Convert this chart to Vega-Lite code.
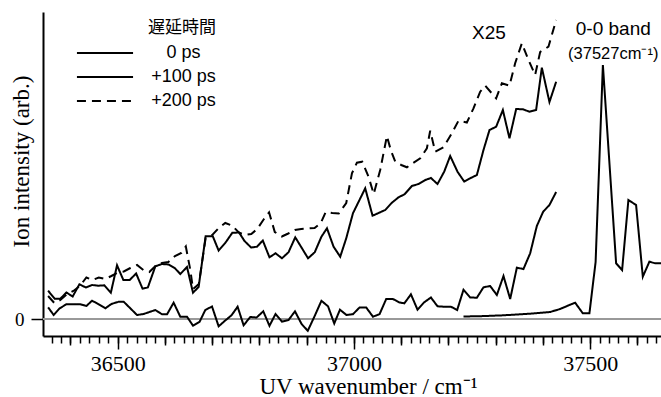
{
  "$schema": "https://vega.github.io/schema/vega-lite/v6.json",
  "width": 618,
  "height": 324,
  "autosize": {"type": "none"},
  "padding": {"left": 43, "top": 12, "right": 0, "bottom": 61},
  "background": "white",
  "config": {"view": {"stroke": null}, "axis": {"grid": false}},
  "datasets": {
    "spectra": [
      {"trace": "0ps_x25", "delay": "0 ps", "wavenumber": 36352.8, "intensity": 11.7},
      {"trace": "0ps_x25", "delay": "0 ps", "wavenumber": 36364.6, "intensity": 4},
      {"trace": "0ps_x25", "delay": "0 ps", "wavenumber": 36377.3, "intensity": 10.7},
      {"trace": "0ps_x25", "delay": "0 ps", "wavenumber": 36391.5, "intensity": 14.7},
      {"trace": "0ps_x25", "delay": "0 ps", "wavenumber": 36406.9, "intensity": 14.7},
      {"trace": "0ps_x25", "delay": "0 ps", "wavenumber": 36421.1, "intensity": 14.7},
      {"trace": "0ps_x25", "delay": "0 ps", "wavenumber": 36433.8, "intensity": 13},
      {"trace": "0ps_x25", "delay": "0 ps", "wavenumber": 36445.8, "intensity": 18.3},
      {"trace": "0ps_x25", "delay": "0 ps", "wavenumber": 36459.8, "intensity": 14.7},
      {"trace": "0ps_x25", "delay": "0 ps", "wavenumber": 36474, "intensity": 10.7},
      {"trace": "0ps_x25", "delay": "0 ps", "wavenumber": 36486.7, "intensity": 15},
      {"trace": "0ps_x25", "delay": "0 ps", "wavenumber": 36502.1, "intensity": 17.3},
      {"trace": "0ps_x25", "delay": "0 ps", "wavenumber": 36512.7, "intensity": 17.3},
      {"trace": "0ps_x25", "delay": "0 ps", "wavenumber": 36541, "intensity": 4},
      {"trace": "0ps_x25", "delay": "0 ps", "wavenumber": 36555, "intensity": 5},
      {"trace": "0ps_x25", "delay": "0 ps", "wavenumber": 36579.8, "intensity": 9},
      {"trace": "0ps_x25", "delay": "0 ps", "wavenumber": 36593.9, "intensity": 4.7},
      {"trace": "0ps_x25", "delay": "0 ps", "wavenumber": 36604.5, "intensity": 4.7},
      {"trace": "0ps_x25", "delay": "0 ps", "wavenumber": 36618.5, "intensity": 16.3},
      {"trace": "0ps_x25", "delay": "0 ps", "wavenumber": 36632.6, "intensity": 2.3},
      {"trace": "0ps_x25", "delay": "0 ps", "wavenumber": 36646.8, "intensity": 2.3},
      {"trace": "0ps_x25", "delay": "0 ps", "wavenumber": 36659.5, "intensity": -6.7},
      {"trace": "0ps_x25", "delay": "0 ps", "wavenumber": 36673.5, "intensity": -2.7},
      {"trace": "0ps_x25", "delay": "0 ps", "wavenumber": 36685.5, "intensity": 9},
      {"trace": "0ps_x25", "delay": "0 ps", "wavenumber": 36699.7, "intensity": 12.5},
      {"trace": "0ps_x25", "delay": "0 ps", "wavenumber": 36713.7, "intensity": -7.3},
      {"trace": "0ps_x25", "delay": "0 ps", "wavenumber": 36727.8, "intensity": -1.5},
      {"trace": "0ps_x25", "delay": "0 ps", "wavenumber": 36741, "intensity": 3.7},
      {"trace": "0ps_x25", "delay": "0 ps", "wavenumber": 36753.9, "intensity": 12.3},
      {"trace": "0ps_x25", "delay": "0 ps", "wavenumber": 36766.6, "intensity": -6.3},
      {"trace": "0ps_x25", "delay": "0 ps", "wavenumber": 36780.7, "intensity": 2},
      {"trace": "0ps_x25", "delay": "0 ps", "wavenumber": 36794, "intensity": 1.5},
      {"trace": "0ps_x25", "delay": "0 ps", "wavenumber": 36808.2, "intensity": 7.7},
      {"trace": "0ps_x25", "delay": "0 ps", "wavenumber": 36821.3, "intensity": -6.8},
      {"trace": "0ps_x25", "delay": "0 ps", "wavenumber": 36834.2, "intensity": 5},
      {"trace": "0ps_x25", "delay": "0 ps", "wavenumber": 36847.8, "intensity": -2.7},
      {"trace": "0ps_x25", "delay": "0 ps", "wavenumber": 36861.7, "intensity": -1},
      {"trace": "0ps_x25", "delay": "0 ps", "wavenumber": 36875.3, "intensity": 7.7},
      {"trace": "0ps_x25", "delay": "0 ps", "wavenumber": 36889.3, "intensity": -5},
      {"trace": "0ps_x25", "delay": "0 ps", "wavenumber": 36902.4, "intensity": -11.8},
      {"trace": "0ps_x25", "delay": "0 ps", "wavenumber": 36917.2, "intensity": 3.2},
      {"trace": "0ps_x25", "delay": "0 ps", "wavenumber": 36931.3, "intensity": 18.2},
      {"trace": "0ps_x25", "delay": "0 ps", "wavenumber": 36945.3, "intensity": 12.7},
      {"trace": "0ps_x25", "delay": "0 ps", "wavenumber": 36958.4, "intensity": -4.5},
      {"trace": "0ps_x25", "delay": "0 ps", "wavenumber": 36970.5, "intensity": 9.3},
      {"trace": "0ps_x25", "delay": "0 ps", "wavenumber": 36984.4, "intensity": 4},
      {"trace": "0ps_x25", "delay": "0 ps", "wavenumber": 36998, "intensity": 4.8},
      {"trace": "0ps_x25", "delay": "0 ps", "wavenumber": 37012, "intensity": 11.5},
      {"trace": "0ps_x25", "delay": "0 ps", "wavenumber": 37026.1, "intensity": 11.5},
      {"trace": "0ps_x25", "delay": "0 ps", "wavenumber": 37040.3, "intensity": 2.3},
      {"trace": "0ps_x25", "delay": "0 ps", "wavenumber": 37054.3, "intensity": 4.8},
      {"trace": "0ps_x25", "delay": "0 ps", "wavenumber": 37068.4, "intensity": 20},
      {"trace": "0ps_x25", "delay": "0 ps", "wavenumber": 37082.6, "intensity": 20},
      {"trace": "0ps_x25", "delay": "0 ps", "wavenumber": 37096.6, "intensity": 16.5},
      {"trace": "0ps_x25", "delay": "0 ps", "wavenumber": 37106.9, "intensity": 15.7},
      {"trace": "0ps_x25", "delay": "0 ps", "wavenumber": 37120.7, "intensity": 24.7},
      {"trace": "0ps_x25", "delay": "0 ps", "wavenumber": 37134.7, "intensity": 9.3},
      {"trace": "0ps_x25", "delay": "0 ps", "wavenumber": 37148.8, "intensity": 16.7},
      {"trace": "0ps_x25", "delay": "0 ps", "wavenumber": 37163, "intensity": 21.5},
      {"trace": "0ps_x25", "delay": "0 ps", "wavenumber": 37177, "intensity": 12.7},
      {"trace": "0ps_x25", "delay": "0 ps", "wavenumber": 37191.1, "intensity": 12.3},
      {"trace": "0ps_x25", "delay": "0 ps", "wavenumber": 37205.3, "intensity": 12.3},
      {"trace": "0ps_x25", "delay": "0 ps", "wavenumber": 37218.6, "intensity": 9},
      {"trace": "0ps_x25", "delay": "0 ps", "wavenumber": 37232, "intensity": 29.3},
      {"trace": "0ps_x25", "delay": "0 ps", "wavenumber": 37246.1, "intensity": 21.5},
      {"trace": "0ps_x25", "delay": "0 ps", "wavenumber": 37260.3, "intensity": 21.3},
      {"trace": "0ps_x25", "delay": "0 ps", "wavenumber": 37274.3, "intensity": 31.7},
      {"trace": "0ps_x25", "delay": "0 ps", "wavenumber": 37288.4, "intensity": 33},
      {"trace": "0ps_x25", "delay": "0 ps", "wavenumber": 37302.6, "intensity": 24},
      {"trace": "0ps_x25", "delay": "0 ps", "wavenumber": 37316.6, "intensity": 43},
      {"trace": "0ps_x25", "delay": "0 ps", "wavenumber": 37330.8, "intensity": 20},
      {"trace": "0ps_x25", "delay": "0 ps", "wavenumber": 37344.9, "intensity": 51.3},
      {"trace": "0ps_x25", "delay": "0 ps", "wavenumber": 37358.9, "intensity": 50},
      {"trace": "0ps_x25", "delay": "0 ps", "wavenumber": 37373.1, "intensity": 65.7},
      {"trace": "0ps_x25", "delay": "0 ps", "wavenumber": 37387.2, "intensity": 93},
      {"trace": "0ps_x25", "delay": "0 ps", "wavenumber": 37400.6, "intensity": 107.3},
      {"trace": "0ps_x25", "delay": "0 ps", "wavenumber": 37413.9, "intensity": 114},
      {"trace": "0ps_x25", "delay": "0 ps", "wavenumber": 37428.1, "intensity": 127},

      {"trace": "100ps_x25", "delay": "+100 ps", "wavenumber": 36352.8, "intensity": 28.3},
      {"trace": "100ps_x25", "delay": "+100 ps", "wavenumber": 36366.7, "intensity": 20.3},
      {"trace": "100ps_x25", "delay": "+100 ps", "wavenumber": 36378.8, "intensity": 20.3},
      {"trace": "100ps_x25", "delay": "+100 ps", "wavenumber": 36391.5, "intensity": 26.5},
      {"trace": "100ps_x25", "delay": "+100 ps", "wavenumber": 36404.8, "intensity": 22.5},
      {"trace": "100ps_x25", "delay": "+100 ps", "wavenumber": 36419, "intensity": 34.7},
      {"trace": "100ps_x25", "delay": "+100 ps", "wavenumber": 36432.7, "intensity": 31.5},
      {"trace": "100ps_x25", "delay": "+100 ps", "wavenumber": 36445.8, "intensity": 34},
      {"trace": "100ps_x25", "delay": "+100 ps", "wavenumber": 36458.1, "intensity": 33.3},
      {"trace": "100ps_x25", "delay": "+100 ps", "wavenumber": 36471.9, "intensity": 33.7},
      {"trace": "100ps_x25", "delay": "+100 ps", "wavenumber": 36485.6, "intensity": 26.3},
      {"trace": "100ps_x25", "delay": "+100 ps", "wavenumber": 36498.7, "intensity": 53.7},
      {"trace": "100ps_x25", "delay": "+100 ps", "wavenumber": 36512.1, "intensity": 39},
      {"trace": "100ps_x25", "delay": "+100 ps", "wavenumber": 36525.4, "intensity": 39},
      {"trace": "100ps_x25", "delay": "+100 ps", "wavenumber": 36539.1, "intensity": 45.5},
      {"trace": "100ps_x25", "delay": "+100 ps", "wavenumber": 36552.7, "intensity": 30.3},
      {"trace": "100ps_x25", "delay": "+100 ps", "wavenumber": 36563.9, "intensity": 31.5},
      {"trace": "100ps_x25", "delay": "+100 ps", "wavenumber": 36579.8, "intensity": 52.7},
      {"trace": "100ps_x25", "delay": "+100 ps", "wavenumber": 36593.9, "intensity": 55},
      {"trace": "100ps_x25", "delay": "+100 ps", "wavenumber": 36607.9, "intensity": 54.5},
      {"trace": "100ps_x25", "delay": "+100 ps", "wavenumber": 36621.4, "intensity": 50.7},
      {"trace": "100ps_x25", "delay": "+100 ps", "wavenumber": 36632.6, "intensity": 45},
      {"trace": "100ps_x25", "delay": "+100 ps", "wavenumber": 36646.8, "intensity": 52},
      {"trace": "100ps_x25", "delay": "+100 ps", "wavenumber": 36659.5, "intensity": 26.3},
      {"trace": "100ps_x25", "delay": "+100 ps", "wavenumber": 36671.4, "intensity": 32},
      {"trace": "100ps_x25", "delay": "+100 ps", "wavenumber": 36686.2, "intensity": 82.7},
      {"trace": "100ps_x25", "delay": "+100 ps", "wavenumber": 36701.4, "intensity": 82.7},
      {"trace": "100ps_x25", "delay": "+100 ps", "wavenumber": 36713.7, "intensity": 68.5},
      {"trace": "100ps_x25", "delay": "+100 ps", "wavenumber": 36728.5, "intensity": 76.5},
      {"trace": "100ps_x25", "delay": "+100 ps", "wavenumber": 36742.6, "intensity": 86.2},
      {"trace": "100ps_x25", "delay": "+100 ps", "wavenumber": 36756.8, "intensity": 86.5},
      {"trace": "100ps_x25", "delay": "+100 ps", "wavenumber": 36768.5, "intensity": 78},
      {"trace": "100ps_x25", "delay": "+100 ps", "wavenumber": 36782.4, "intensity": 71.5},
      {"trace": "100ps_x25", "delay": "+100 ps", "wavenumber": 36794.9, "intensity": 72.3},
      {"trace": "100ps_x25", "delay": "+100 ps", "wavenumber": 36807.2, "intensity": 78.5},
      {"trace": "100ps_x25", "delay": "+100 ps", "wavenumber": 36821.3, "intensity": 61.7},
      {"trace": "100ps_x25", "delay": "+100 ps", "wavenumber": 36834.2, "intensity": 65.7},
      {"trace": "100ps_x25", "delay": "+100 ps", "wavenumber": 36847.8, "intensity": 60.7},
      {"trace": "100ps_x25", "delay": "+100 ps", "wavenumber": 36861.7, "intensity": 66.8},
      {"trace": "100ps_x25", "delay": "+100 ps", "wavenumber": 36875.9, "intensity": 81.7},
      {"trace": "100ps_x25", "delay": "+100 ps", "wavenumber": 36890.1, "intensity": 70.7},
      {"trace": "100ps_x25", "delay": "+100 ps", "wavenumber": 36903, "intensity": 60.7},
      {"trace": "100ps_x25", "delay": "+100 ps", "wavenumber": 36917.2, "intensity": 66.8},
      {"trace": "100ps_x25", "delay": "+100 ps", "wavenumber": 36931.3, "intensity": 82.3},
      {"trace": "100ps_x25", "delay": "+100 ps", "wavenumber": 36943, "intensity": 90.7},
      {"trace": "100ps_x25", "delay": "+100 ps", "wavenumber": 36957, "intensity": 72.3},
      {"trace": "100ps_x25", "delay": "+100 ps", "wavenumber": 36971.1, "intensity": 62.3},
      {"trace": "100ps_x25", "delay": "+100 ps", "wavenumber": 36983.8, "intensity": 80.7},
      {"trace": "100ps_x25", "delay": "+100 ps", "wavenumber": 36998, "intensity": 105.7},
      {"trace": "100ps_x25", "delay": "+100 ps", "wavenumber": 37024, "intensity": 130.7},
      {"trace": "100ps_x25", "delay": "+100 ps", "wavenumber": 37039.5, "intensity": 103.3},
      {"trace": "100ps_x25", "delay": "+100 ps", "wavenumber": 37066.3, "intensity": 109},
      {"trace": "100ps_x25", "delay": "+100 ps", "wavenumber": 37080.5, "intensity": 116.3},
      {"trace": "100ps_x25", "delay": "+100 ps", "wavenumber": 37094.5, "intensity": 121.7},
      {"trace": "100ps_x25", "delay": "+100 ps", "wavenumber": 37107.2, "intensity": 124.7},
      {"trace": "100ps_x25", "delay": "+100 ps", "wavenumber": 37122.8, "intensity": 133},
      {"trace": "100ps_x25", "delay": "+100 ps", "wavenumber": 37136.8, "intensity": 135},
      {"trace": "100ps_x25", "delay": "+100 ps", "wavenumber": 37150.9, "intensity": 139},
      {"trace": "100ps_x25", "delay": "+100 ps", "wavenumber": 37163, "intensity": 141},
      {"trace": "100ps_x25", "delay": "+100 ps", "wavenumber": 37177, "intensity": 135},
      {"trace": "100ps_x25", "delay": "+100 ps", "wavenumber": 37191.1, "intensity": 147.3},
      {"trace": "100ps_x25", "delay": "+100 ps", "wavenumber": 37203.8, "intensity": 163},
      {"trace": "100ps_x25", "delay": "+100 ps", "wavenumber": 37219.3, "intensity": 147.3},
      {"trace": "100ps_x25", "delay": "+100 ps", "wavenumber": 37233.4, "intensity": 137.5},
      {"trace": "100ps_x25", "delay": "+100 ps", "wavenumber": 37246.1, "intensity": 140.7},
      {"trace": "100ps_x25", "delay": "+100 ps", "wavenumber": 37260.3, "intensity": 144},
      {"trace": "100ps_x25", "delay": "+100 ps", "wavenumber": 37274.3, "intensity": 169},
      {"trace": "100ps_x25", "delay": "+100 ps", "wavenumber": 37287, "intensity": 189},
      {"trace": "100ps_x25", "delay": "+100 ps", "wavenumber": 37301.1, "intensity": 192.3},
      {"trace": "100ps_x25", "delay": "+100 ps", "wavenumber": 37315.3, "intensity": 209},
      {"trace": "100ps_x25", "delay": "+100 ps", "wavenumber": 37329.3, "intensity": 180.7},
      {"trace": "100ps_x25", "delay": "+100 ps", "wavenumber": 37343.5, "intensity": 210},
      {"trace": "100ps_x25", "delay": "+100 ps", "wavenumber": 37357.6, "intensity": 209.7},
      {"trace": "100ps_x25", "delay": "+100 ps", "wavenumber": 37371.6, "intensity": 207.3},
      {"trace": "100ps_x25", "delay": "+100 ps", "wavenumber": 37385.7, "intensity": 209},
      {"trace": "100ps_x25", "delay": "+100 ps", "wavenumber": 37397.8, "intensity": 251.3},
      {"trace": "100ps_x25", "delay": "+100 ps", "wavenumber": 37413.9, "intensity": 217},
      {"trace": "100ps_x25", "delay": "+100 ps", "wavenumber": 37428.1, "intensity": 237.3},

      {"trace": "200ps_x25", "delay": "+200 ps", "wavenumber": 36352.8, "intensity": 23},
      {"trace": "200ps_x25", "delay": "+200 ps", "wavenumber": 36366, "intensity": 16},
      {"trace": "200ps_x25", "delay": "+200 ps", "wavenumber": 36378.8, "intensity": 19},
      {"trace": "200ps_x25", "delay": "+200 ps", "wavenumber": 36393, "intensity": 25},
      {"trace": "200ps_x25", "delay": "+200 ps", "wavenumber": 36406.3, "intensity": 28},
      {"trace": "200ps_x25", "delay": "+200 ps", "wavenumber": 36420, "intensity": 33},
      {"trace": "200ps_x25", "delay": "+200 ps", "wavenumber": 36433.8, "intensity": 41.5},
      {"trace": "200ps_x25", "delay": "+200 ps", "wavenumber": 36446.5, "intensity": 39},
      {"trace": "200ps_x25", "delay": "+200 ps", "wavenumber": 36460, "intensity": 41.5},
      {"trace": "200ps_x25", "delay": "+200 ps", "wavenumber": 36474, "intensity": 40},
      {"trace": "200ps_x25", "delay": "+200 ps", "wavenumber": 36486.7, "intensity": 43},
      {"trace": "200ps_x25", "delay": "+200 ps", "wavenumber": 36500.4, "intensity": 46.5},
      {"trace": "200ps_x25", "delay": "+200 ps", "wavenumber": 36513, "intensity": 47.5},
      {"trace": "200ps_x25", "delay": "+200 ps", "wavenumber": 36526.9, "intensity": 51},
      {"trace": "200ps_x25", "delay": "+200 ps", "wavenumber": 36541, "intensity": 54},
      {"trace": "200ps_x25", "delay": "+200 ps", "wavenumber": 36554.4, "intensity": 49},
      {"trace": "200ps_x25", "delay": "+200 ps", "wavenumber": 36567, "intensity": 47},
      {"trace": "200ps_x25", "delay": "+200 ps", "wavenumber": 36579.8, "intensity": 53},
      {"trace": "200ps_x25", "delay": "+200 ps", "wavenumber": 36593.9, "intensity": 56},
      {"trace": "200ps_x25", "delay": "+200 ps", "wavenumber": 36607.3, "intensity": 57},
      {"trace": "200ps_x25", "delay": "+200 ps", "wavenumber": 36621.4, "intensity": 63},
      {"trace": "200ps_x25", "delay": "+200 ps", "wavenumber": 36634.8, "intensity": 66},
      {"trace": "200ps_x25", "delay": "+200 ps", "wavenumber": 36644.3, "intensity": 72.5},
      {"trace": "200ps_x25", "delay": "+200 ps", "wavenumber": 36653.8, "intensity": 49},
      {"trace": "200ps_x25", "delay": "+200 ps", "wavenumber": 36659.5, "intensity": 30},
      {"trace": "200ps_x25", "delay": "+200 ps", "wavenumber": 36671.8, "intensity": 35},
      {"trace": "200ps_x25", "delay": "+200 ps", "wavenumber": 36686.2, "intensity": 81},
      {"trace": "200ps_x25", "delay": "+200 ps", "wavenumber": 36700.3, "intensity": 84},
      {"trace": "200ps_x25", "delay": "+200 ps", "wavenumber": 36714, "intensity": 91},
      {"trace": "200ps_x25", "delay": "+200 ps", "wavenumber": 36727.8, "intensity": 96},
      {"trace": "200ps_x25", "delay": "+200 ps", "wavenumber": 36742, "intensity": 93.5},
      {"trace": "200ps_x25", "delay": "+200 ps", "wavenumber": 36756.4, "intensity": 86.5},
      {"trace": "200ps_x25", "delay": "+200 ps", "wavenumber": 36769, "intensity": 84},
      {"trace": "200ps_x25", "delay": "+200 ps", "wavenumber": 36782.8, "intensity": 85},
      {"trace": "200ps_x25", "delay": "+200 ps", "wavenumber": 36795.5, "intensity": 90},
      {"trace": "200ps_x25", "delay": "+200 ps", "wavenumber": 36808.2, "intensity": 99},
      {"trace": "200ps_x25", "delay": "+200 ps", "wavenumber": 36820.5, "intensity": 106.5},
      {"trace": "200ps_x25", "delay": "+200 ps", "wavenumber": 36832.6, "intensity": 87},
      {"trace": "200ps_x25", "delay": "+200 ps", "wavenumber": 36847.4, "intensity": 82.5},
      {"trace": "200ps_x25", "delay": "+200 ps", "wavenumber": 36861.1, "intensity": 85.5},
      {"trace": "200ps_x25", "delay": "+200 ps", "wavenumber": 36874.9, "intensity": 89},
      {"trace": "200ps_x25", "delay": "+200 ps", "wavenumber": 36888.6, "intensity": 90},
      {"trace": "200ps_x25", "delay": "+200 ps", "wavenumber": 36902.8, "intensity": 90.5},
      {"trace": "200ps_x25", "delay": "+200 ps", "wavenumber": 36916.8, "intensity": 91},
      {"trace": "200ps_x25", "delay": "+200 ps", "wavenumber": 36929.9, "intensity": 96},
      {"trace": "200ps_x25", "delay": "+200 ps", "wavenumber": 36940.4, "intensity": 107},
      {"trace": "200ps_x25", "delay": "+200 ps", "wavenumber": 36954.2, "intensity": 106},
      {"trace": "200ps_x25", "delay": "+200 ps", "wavenumber": 36968, "intensity": 105.5},
      {"trace": "200ps_x25", "delay": "+200 ps", "wavenumber": 36983.8, "intensity": 116},
      {"trace": "200ps_x25", "delay": "+200 ps", "wavenumber": 36995.9, "intensity": 145.7},
      {"trace": "200ps_x25", "delay": "+200 ps", "wavenumber": 37006.4, "intensity": 156.3},
      {"trace": "200ps_x25", "delay": "+200 ps", "wavenumber": 37017.7, "intensity": 157.3},
      {"trace": "200ps_x25", "delay": "+200 ps", "wavenumber": 37031, "intensity": 142.3},
      {"trace": "200ps_x25", "delay": "+200 ps", "wavenumber": 37042, "intensity": 125},
      {"trace": "200ps_x25", "delay": "+200 ps", "wavenumber": 37055.7, "intensity": 149},
      {"trace": "200ps_x25", "delay": "+200 ps", "wavenumber": 37069.9, "intensity": 183},
      {"trace": "200ps_x25", "delay": "+200 ps", "wavenumber": 37078, "intensity": 169},
      {"trace": "200ps_x25", "delay": "+200 ps", "wavenumber": 37087.5, "intensity": 157.3},
      {"trace": "200ps_x25", "delay": "+200 ps", "wavenumber": 37100.2, "intensity": 154},
      {"trace": "200ps_x25", "delay": "+200 ps", "wavenumber": 37112.2, "intensity": 151.7},
      {"trace": "200ps_x25", "delay": "+200 ps", "wavenumber": 37125.5, "intensity": 156},
      {"trace": "200ps_x25", "delay": "+200 ps", "wavenumber": 37140.4, "intensity": 160.7},
      {"trace": "200ps_x25", "delay": "+200 ps", "wavenumber": 37154.5, "intensity": 170.7},
      {"trace": "200ps_x25", "delay": "+200 ps", "wavenumber": 37161.5, "intensity": 188.3},
      {"trace": "200ps_x25", "delay": "+200 ps", "wavenumber": 37172.1, "intensity": 167.3},
      {"trace": "200ps_x25", "delay": "+200 ps", "wavenumber": 37189.7, "intensity": 171.7},
      {"trace": "200ps_x25", "delay": "+200 ps", "wavenumber": 37207.4, "intensity": 185.7},
      {"trace": "200ps_x25", "delay": "+200 ps", "wavenumber": 37221.4, "intensity": 198.3},
      {"trace": "200ps_x25", "delay": "+200 ps", "wavenumber": 37239.1, "intensity": 196.5},
      {"trace": "200ps_x25", "delay": "+200 ps", "wavenumber": 37253.1, "intensity": 210.7},
      {"trace": "200ps_x25", "delay": "+200 ps", "wavenumber": 37267.3, "intensity": 227.3},
      {"trace": "200ps_x25", "delay": "+200 ps", "wavenumber": 37277.9, "intensity": 233.3},
      {"trace": "200ps_x25", "delay": "+200 ps", "wavenumber": 37289.5, "intensity": 227},
      {"trace": "200ps_x25", "delay": "+200 ps", "wavenumber": 37301.1, "intensity": 220.7},
      {"trace": "200ps_x25", "delay": "+200 ps", "wavenumber": 37313.2, "intensity": 235.7},
      {"trace": "200ps_x25", "delay": "+200 ps", "wavenumber": 37329.3, "intensity": 233.3},
      {"trace": "200ps_x25", "delay": "+200 ps", "wavenumber": 37341.3, "intensity": 255.7},
      {"trace": "200ps_x25", "delay": "+200 ps", "wavenumber": 37355.5, "intensity": 275.7},
      {"trace": "200ps_x25", "delay": "+200 ps", "wavenumber": 37369.5, "intensity": 259},
      {"trace": "200ps_x25", "delay": "+200 ps", "wavenumber": 37383.6, "intensity": 244},
      {"trace": "200ps_x25", "delay": "+200 ps", "wavenumber": 37394.2, "intensity": 267},
      {"trace": "200ps_x25", "delay": "+200 ps", "wavenumber": 37411.8, "intensity": 272.3},
      {"trace": "200ps_x25", "delay": "+200 ps", "wavenumber": 37428.1, "intensity": 299},

      {"trace": "0ps_x1", "delay": "0 ps", "wavenumber": 37232, "intensity": 2.5},
      {"trace": "0ps_x1", "delay": "0 ps", "wavenumber": 37267.3, "intensity": 2.8},
      {"trace": "0ps_x1", "delay": "0 ps", "wavenumber": 37316.6, "intensity": 3.7},
      {"trace": "0ps_x1", "delay": "0 ps", "wavenumber": 37373.1, "intensity": 5.3},
      {"trace": "0ps_x1", "delay": "0 ps", "wavenumber": 37415.4, "intensity": 7},
      {"trace": "0ps_x1", "delay": "0 ps", "wavenumber": 37436.5, "intensity": 10},
      {"trace": "0ps_x1", "delay": "0 ps", "wavenumber": 37451.3, "intensity": 13},
      {"trace": "0ps_x1", "delay": "0 ps", "wavenumber": 37468.3, "intensity": 16.3},
      {"trace": "0ps_x1", "delay": "0 ps", "wavenumber": 37484.5, "intensity": 5.7},
      {"trace": "0ps_x1", "delay": "0 ps", "wavenumber": 37498.5, "intensity": 5.7},
      {"trace": "0ps_x1", "delay": "0 ps", "wavenumber": 37511.6, "intensity": 57},
      {"trace": "0ps_x1", "delay": "0 ps", "wavenumber": 37527, "intensity": 254},
      {"trace": "0ps_x1", "delay": "0 ps", "wavenumber": 37555, "intensity": 55.7},
      {"trace": "0ps_x1", "delay": "0 ps", "wavenumber": 37567.7, "intensity": 49},
      {"trace": "0ps_x1", "delay": "0 ps", "wavenumber": 37581, "intensity": 119},
      {"trace": "0ps_x1", "delay": "0 ps", "wavenumber": 37597.3, "intensity": 114},
      {"trace": "0ps_x1", "delay": "0 ps", "wavenumber": 37611.5, "intensity": 42.3},
      {"trace": "0ps_x1", "delay": "0 ps", "wavenumber": 37625.4, "intensity": 57.3},
      {"trace": "0ps_x1", "delay": "0 ps", "wavenumber": 37637.5, "intensity": 55.7},
      {"trace": "0ps_x1", "delay": "0 ps", "wavenumber": 37650, "intensity": 55.7}
    ],
    "labels": [
      {"label": "X25", "wavenumber": 37286, "intensity": 286},
      {"label": "0-0 band", "wavenumber": 37549, "intensity": 290}
    ],
    "sublabels": [
      {"label": "(37527cm⁻¹)", "wavenumber": 37549, "intensity": 265.5}
    ],
    "baseline": [
      {"intensity": 0}
    ]
  },
  "encoding": {
    "y": {
      "field": "intensity", "type": "quantitative",
      "scale": {"domain": [-17, 307], "nice": false, "zero": false},
      "axis": {
        "orient": "left",
        "values": [0],
        "tickSize": 12, "tickWidth": 1.5, "tickColor": "black",
        "domainColor": "black", "domainWidth": 2,
        "labelFont": "Liberation Serif", "labelFontSize": 19, "labelColor": "black", "labelPadding": 7,
        "title": "Ion intensity (arb.)",
        "titleFont": "Liberation Serif", "titleFontSize": 23, "titleFontWeight": "normal", "titleColor": "black",
        "titleX": -22, "titleY": 149, "titleAngle": -90, "titleBaseline": "middle", "titleAlign": "center"
      }
    }
  },
  "layer": [
    {
      "data": {"name": "baseline"},
      "mark": {"type": "rule", "color": "#999999", "strokeWidth": 2},
      "encoding": {}
    },
    {
      "data": {"name": "spectra"},
      "mark": {"type": "line", "color": "black", "strokeWidth": 2, "clip": true},
      "encoding": {
        "x": {
          "field": "wavenumber", "type": "quantitative",
          "scale": {"domain": [36342, 37650], "nice": false, "zero": false},
          "axis": {
            "orient": "bottom",
            "values": [36500, 37000, 37500], "format": "d",
            "tickSize": 13, "tickWidth": 1.5, "tickColor": "black",
            "domainColor": "black", "domainWidth": 2,
            "labelFont": "Liberation Serif", "labelFontSize": 22, "labelColor": "black", "labelPadding": 4,
            "title": "UV wavenumber / cm⁻¹",
            "titleFont": "Liberation Serif", "titleFontSize": 23, "titleFontWeight": "normal", "titleColor": "black",
            "titleX": 325, "titleY": 57, "titleBaseline": "alphabetic", "titleAlign": "center"
          }
        },
        "detail": {"field": "trace", "type": "nominal"},
        "strokeDash": {
          "field": "delay", "type": "nominal",
          "scale": {"domain": ["0 ps", "+100 ps", "+200 ps"], "range": [[1, 0], [1, 0], [9, 6]]},
          "legend": {
            "orient": "none", "legendX": 53, "legendY": 8, "padding": 0,
            "gridAlign": "none",
            "title": "遅延時間",
            "titleFont": "Noto Sans CJK JP", "titleFontSize": 17, "titleFontWeight": "normal", "titleColor": "black",
            "titleAnchor": "end", "titlePadding": 7, "rowPadding": 6,
            "symbolType": "M-5,0H5", "symbolSize": 126, "symbolStrokeWidth": 2, "symbolStrokeColor": "black",
            "labelFont": "Liberation Sans", "labelFontSize": 18, "labelColor": "black",
            "labelAlign": "center", "labelOffset": 69.5
          }
        }
      }
    },
    {
      "data": {"name": "labels"},
      "mark": {"type": "text", "font": "Liberation Sans", "fontSize": 19, "color": "black", "align": "center", "baseline": "middle"},
      "encoding": {
        "x": {
          "field": "wavenumber", "type": "quantitative",
          "axis": {
            "orient": "bottom",
            "values": [36400, 36600, 36700, 36800, 36900, 37100, 37200, 37300, 37400, 37600],
            "labels": false, "domain": false, "title": null,
            "tickSize": 9, "tickWidth": 1.5, "tickColor": "black"
          }
        },
        "text": {"field": "label", "type": "nominal"}
      }
    },
    {
      "data": {"name": "sublabels"},
      "mark": {"type": "text", "font": "Liberation Sans", "fontSize": 16.5, "color": "black", "align": "center", "baseline": "middle"},
      "encoding": {
        "x": {
          "field": "wavenumber", "type": "quantitative",
          "axis": {
            "orient": "bottom",
            "values": [36360, 36380, 36400, 36420, 36440, 36460, 36480, 36500, 36520, 36540, 36560, 36580, 36600, 36620, 36640, 36660, 36680, 36700, 36720, 36740, 36760, 36780, 36800, 36820, 36840, 36860, 36880, 36900, 36920, 36940, 36960, 36980, 37000, 37020, 37040, 37060, 37080, 37100, 37120, 37140, 37160, 37180, 37200, 37220, 37240, 37260, 37280, 37300, 37320, 37340, 37360, 37380, 37400, 37420, 37440, 37460, 37480, 37500, 37520, 37540, 37560, 37580, 37600, 37620, 37640],
            "labels": false, "domain": false, "title": null,
            "tickSize": 7, "tickWidth": 1.5, "tickColor": "black"
          }
        },
        "text": {"field": "label", "type": "nominal"}
      }
    }
  ],
  "resolve": {"axis": {"x": "independent"}}
}
